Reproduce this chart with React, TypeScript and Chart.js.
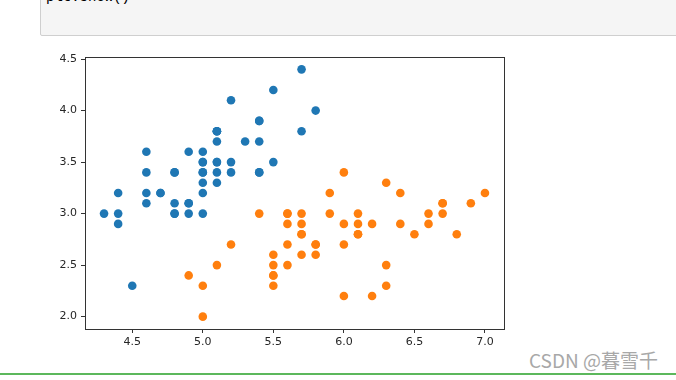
import React, { useEffect, useRef } from "react";
import { Chart, registerables } from "chart.js";

Chart.register(...registerables);

const setosaX = [5.1,4.9,4.7,4.6,5.0,5.4,4.6,5.0,4.4,4.9,5.4,4.8,4.8,4.3,5.8,5.7,5.4,5.1,5.7,5.1,5.4,5.1,4.6,5.1,4.8,5.0,5.0,5.2,5.2,4.7,4.8,5.4,5.2,5.5,4.9,5.0,5.5,4.9,4.4,5.1,5.0,4.5,4.4,5.0,5.1,4.8,5.1,4.6,5.3,5.0];
const setosaY = [3.5,3.0,3.2,3.1,3.6,3.9,3.4,3.4,2.9,3.1,3.7,3.4,3.0,3.0,4.0,4.4,3.9,3.5,3.8,3.8,3.4,3.7,3.6,3.3,3.4,3.0,3.4,3.5,3.4,3.2,3.1,3.4,4.1,4.2,3.1,3.2,3.5,3.6,3.0,3.4,3.5,2.3,3.2,3.5,3.8,3.0,3.8,3.2,3.7,3.3];
const versiX = [7.0,6.4,6.9,5.5,6.5,5.7,6.3,4.9,6.6,5.2,5.0,5.9,6.0,6.1,5.6,6.7,5.6,5.8,6.2,5.6,5.9,6.1,6.3,6.1,6.4,6.6,6.8,6.7,6.0,5.7,5.5,5.5,5.8,6.0,5.4,6.0,6.7,6.3,5.6,5.5,5.5,6.1,5.8,5.0,5.6,5.7,5.7,6.2,5.1,5.7];
const versiY = [3.2,3.2,3.1,2.3,2.8,2.8,3.3,2.4,2.9,2.7,2.0,3.0,2.2,2.9,2.9,3.1,3.0,2.7,2.2,2.5,3.2,2.8,2.5,2.8,2.9,3.0,2.8,3.0,2.9,2.6,2.4,2.4,2.7,2.7,3.0,3.4,3.1,2.3,3.0,2.5,2.6,3.0,2.6,2.3,2.7,3.0,2.9,2.9,2.5,2.8];
const xTicks = [4.5, 5.0, 5.5, 6.0, 6.5, 7.0];
const yTicks = [2.0, 2.5, 3.0, 3.5, 4.0, 4.5];

const framePlugin = {
  id: "frame",
  afterDraw(chart: any) {
    const { ctx, chartArea } = chart;
    ctx.save();
    ctx.strokeStyle = "#333";
    ctx.lineWidth = 1;
    ctx.strokeRect(
      Math.round(chartArea.left) + 0.5,
      Math.round(chartArea.top) + 0.5,
      Math.round(chartArea.right - chartArea.left),
      Math.round(chartArea.bottom - chartArea.top)
    );
    ctx.restore();
  },
};

export default function App() {
  const ref = useRef<HTMLCanvasElement>(null);
  useEffect(() => {
    document.body.style.margin = "0";
    const toPts = (xs: number[], ys: number[]) => xs.map((x, i) => ({ x, y: ys[i] }));
    const tickFont = { family: "DejaVu Sans", size: 11 };
    const chart = new Chart(ref.current!, {
      type: "scatter",
      data: {
        datasets: [
          { data: toPts(setosaX, setosaY), backgroundColor: "#1f77b4", borderWidth: 0, pointRadius: 4.3 },
          { data: toPts(versiX, versiY), backgroundColor: "#ff7f0e", borderWidth: 0, pointRadius: 4.3 },
        ],
      },
      options: {
        animation: false,
        responsive: false,
        layout: { padding: { top: 17, right: 16, left: 0, bottom: 0 } },
        plugins: { legend: { display: false }, tooltip: { enabled: false } },
        scales: {
          x: {
            type: "linear",
            min: 4.165,
            max: 7.135,
            afterBuildTicks: (s: any) => { s.ticks = xTicks.map((v) => ({ value: v })); },
            afterFit: (s: any) => { s.height = 31; },
            grid: { drawOnChartArea: false, drawTicks: true, tickLength: 4, tickColor: "#333" },
            border: { display: false },
            ticks: { font: tickFont, color: "#262626", padding: 3, maxRotation: 0, callback: (v: any) => Number(v).toFixed(1) },
          },
          y: {
            type: "linear",
            min: 1.88,
            max: 4.52,
            afterBuildTicks: (s: any) => { s.ticks = yTicks.map((v) => ({ value: v })); },
            afterFit: (s: any) => { s.width = 85; },
            grid: { drawOnChartArea: false, drawTicks: true, tickLength: 4, tickColor: "#333" },
            border: { display: false },
            ticks: { font: tickFont, color: "#262626", padding: 4, callback: (v: any) => Number(v).toFixed(1) },
          },
        },
      },
      plugins: [framePlugin],
    });
    return () => chart.destroy();
  }, []);

  return (
    <div style={{ position: "fixed", left: 0, top: 0, width: 676, height: 380, background: "#fff", overflow: "hidden" }}>
      <div
        style={{
          position: "absolute",
          left: 40,
          top: -2,
          width: 660,
          height: 38,
          background: "#f5f5f5",
          border: "1px solid #cfcfcf",
          borderRadius: 2,
          boxSizing: "border-box",
        }}
      />
      <div
        style={{
          position: "absolute",
          left: 46,
          top: -10,
          fontFamily: "'Liberation Mono', monospace",
          fontSize: 14,
          lineHeight: "14px",
          color: "#000",
        }}
      >
        plt.show()
      </div>
      <canvas ref={ref} width={520} height={320} style={{ position: "absolute", left: 0, top: 40, width: 520, height: 320 }} />
      <div
        style={{
          position: "absolute",
          left: 529,
          top: 347,
          fontFamily: "'Noto Sans CJK SC', 'Noto Sans', sans-serif",
          fontSize: 19,
          lineHeight: "26px",
          color: "#a8a8a8",
          whiteSpace: "nowrap",
        }}
      >
        CSDN @暮雪千
      </div>
      <div style={{ position: "absolute", left: 0, top: 373, width: 676, height: 2, background: "#5cb85c" }} />
    </div>
  );
}
